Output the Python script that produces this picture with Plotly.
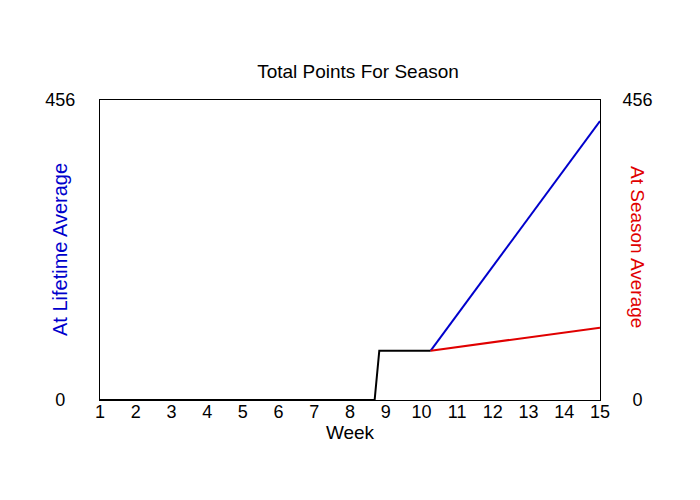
import plotly.graph_objects as go

# Data
actual_weeks = [1, 8.69, 8.82, 10.26]
actual_points = [0, 0, 75, 75]
proj_weeks = [10.26, 15]
lifetime_points = [75, 424]
season_points = [75, 110]
week_ticks = list(range(1, 16))
y_max = 456

fig = go.Figure()
fig.add_trace(go.Scatter(x=actual_weeks, y=actual_points, mode="lines",
                         line=dict(color="black", width=2), showlegend=False))
fig.add_trace(go.Scatter(x=proj_weeks, y=lifetime_points, mode="lines",
                         line=dict(color="#0000cc", width=2), showlegend=False))
fig.add_trace(go.Scatter(x=proj_weeks, y=season_points, mode="lines", yaxis="y2",
                         line=dict(color="#e00000", width=2), showlegend=False))

font = "Liberation Sans, Arial, sans-serif"
fs = "\u2007"
fig.update_layout(
    width=700, height=500,
    margin=dict(l=92, r=108, t=92, b=108),
    paper_bgcolor="white", plot_bgcolor="white",
    font=dict(family=font, color="black"),
    title=dict(text="Total Points For Season", x=0.5, xanchor="center",
               y=1 - 63.5 / 500, yanchor="middle", font=dict(size=19)),
    xaxis=dict(range=[1, 15], tickvals=week_ticks, showgrid=False, zeroline=False,
               showline=True, linecolor="black", linewidth=1, mirror=True,
               ticks="", ticklen=0, tickfont=dict(size=18), ticklabelstandoff=-5,
               title=dict(text="Week", font=dict(size=19), standoff=1)),
    yaxis=dict(range=[0, y_max], tickvals=[0, y_max],
               ticktext=[fs + "0" + fs, str(y_max)],
               showgrid=False, zeroline=False, showline=True, linecolor="black",
               linewidth=1, mirror=True, ticks="outside", ticklen=20,
               tickcolor="rgba(0,0,0,0)", tickfont=dict(size=18)),
    yaxis2=dict(range=[0, y_max], tickvals=[0, y_max],
                ticktext=[fs + "0" + fs, str(y_max)],
                overlaying="y", side="right", showgrid=False, zeroline=False,
                ticks="outside", ticklen=18, tickcolor="rgba(0,0,0,0)",
                tickfont=dict(size=18)),
    annotations=[
        dict(text="At Lifetime Average", x=(60 - 100) / 500, y=0.5,
             xref="paper", yref="paper", xanchor="center", yanchor="middle",
             showarrow=False, textangle=-90,
             font=dict(size=20, color="#0000cc")),
        dict(text="At Season Average", x=(638 - 100) / 500, y=0.5 + 3 / 300,
             xref="paper", yref="paper", xanchor="center", yanchor="middle",
             showarrow=False, textangle=90,
             font=dict(size=19, color="#e00000")),
    ],
)
fig.write_html("out.html")
